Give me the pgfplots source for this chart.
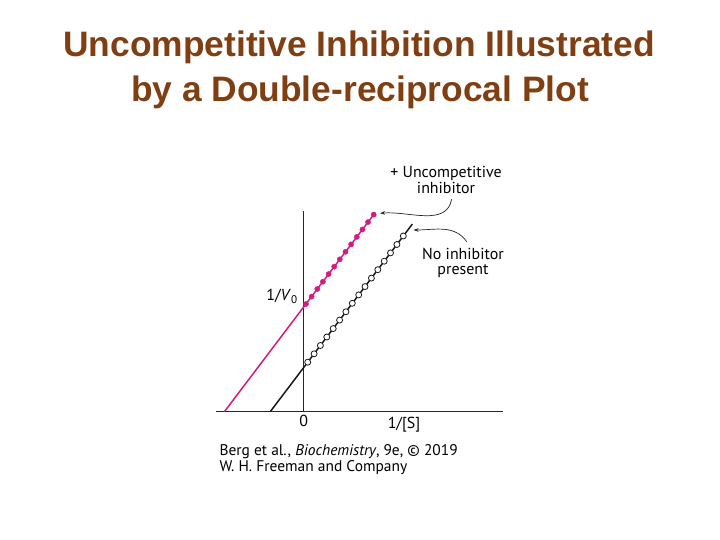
\documentclass[border=0pt]{standalone}
\usepackage{pgfplots}
\pgfplotsset{compat=1.18}
\usetikzlibrary{arrows.meta}
\usepackage{fontspec}
\setmainfont{PT Sans}
\newfontfamily\titlefont{Liberation Sans}

\definecolor{titlebrown}{RGB}{127,63,19}
\definecolor{inhib}{RGB}{212,28,128}

\begin{document}
\begin{tikzpicture}[x=1bp,y=1bp]
\useasboundingbox[fill=white] (0,0) rectangle (720,540);

% title
\node[anchor=base, text=titlebrown, font=\titlefont\bfseries\fontsize{35.5}{40}\selectfont] at (359,483) {Uncompetitive Inhibition Illustrated};
\node[anchor=base, text=titlebrown, font=\titlefont\bfseries\fontsize{35.5}{40}\selectfont] at (360,438) {by a Double-reciprocal Plot};

\begin{axis}[
    at={(216bp,128.5bp)}, anchor=south west,
    scale only axis,
    width=287bp, height=200bp,
    xmin=-87.7, xmax=199.3,
    ymin=0, ymax=200,
    axis lines=middle,
    axis line style={-, line width=0.9bp, black!85},
    ticks=none,
    clip=false
]
    % + uncompetitive inhibitor
    \addplot[inhib, line width=1.5bp] coordinates {(-79.2,0) (70,196.9)};
    \addplot[only marks, mark=*, mark size=2.6bp, mark options={fill=inhib, draw=inhib}] coordinates {
        (2.3,107.5)(7.9,114.9)(13.6,122.5)(19.2,129.8)(24.9,137.4)(30.5,144.8)(36.1,152.2)
        (41.8,159.7)(47.4,167.1)(53.1,174.6)(58.7,182.0)(64.3,189.4)(70.0,196.9)
    };
    % no inhibitor
    \addplot[black!90, line width=1.5bp] coordinates {(-33.3,0) (108.6,187.4)};
    \addplot[only marks, mark=*, mark size=3bp, mark options={fill=white, draw=black!90, line width=0.8bp}] coordinates {
        (4.0,49.3)(10.4,57.7)(16.7,66.0)(23.1,74.5)(29.5,82.9)(35.9,91.4)(42.2,99.7)(48.6,108.2)
        (55.0,116.6)(61.3,124.9)(67.7,133.4)(74.1,141.8)(80.5,150.3)(86.8,158.6)(93.2,167.0)(99.6,175.5)
    };
\end{axis}

% axis labels
\node[anchor=base, font=\fontsize{16}{18}\selectfont] at (282,239.3) {1/\textit{V}\textsubscript{0}};
\node[anchor=base, font=\fontsize{16}{18}\selectfont] at (303.7,113) {0};
\node[anchor=base, font=\fontsize{16}{18}\selectfont] at (404,111) {1/[S]};

% annotations (anchor=base sits on the last line)
\node[anchor=base, align=center, font=\fontsize{16}{15.5}\selectfont] at (446,346.7) {+ Uncompetitive\\inhibitor};
\draw[black!85, line width=0.7bp, -{Stealth[length=5bp, width=3.5bp]}] (451.7,341) to[out=-100, in=5] (380,326.7);
\node[anchor=base, align=center, font=\fontsize{16}{15.5}\selectfont] at (463,265) {No inhibitor\\present};
\draw[black!85, line width=0.7bp, -{Stealth[length=5bp, width=3.5bp]}] (466.7,298.3) to[out=125, in=0] (413.5,310);

% credit
\node[anchor=base west, align=left, font=\fontsize{15.5}{17}\selectfont] at (216,68) {Berg et al., \textit{Biochemistry}, 9e, \textcopyright{} 2019\\W. H. Freeman and Company};
\end{tikzpicture}
\end{document}
